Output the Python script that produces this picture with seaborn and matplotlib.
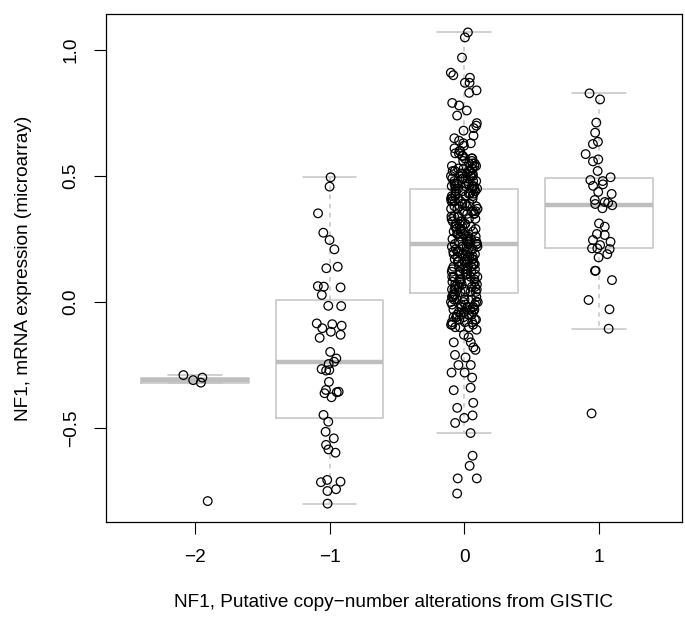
import numpy as np
import pandas as pd
import matplotlib
matplotlib.use("Agg")
import matplotlib.pyplot as plt
import seaborn as sns

# ---------------- data ----------------
cna_levels = [-2, -1, 0, 1]
xtick_labels = ["\u22122", "\u22121", "0", "1"]
ytick_values = [-0.5, 0.0, 0.5, 1.0]
ytick_labels = ["\u22120.5", "0.0", "0.5", "1.0"]

expr_m2 = [-0.29, -0.30, -0.31, -0.32, -0.79]

expr_m1 = [0.495, 0.458, 0.352, 0.275, 0.246, 0.209, 0.140, 0.134,
           0.063, 0.061, 0.058, 0.028, -0.015, -0.016,
           -0.085, -0.088, -0.094, -0.104, -0.118, -0.130, -0.142,
           -0.198, -0.224, -0.237, -0.246, -0.266, -0.270, -0.272,
           -0.317, -0.349, -0.356, -0.358, -0.362, -0.378,
           -0.448, -0.475, -0.515, -0.541, -0.567, -0.585, -0.598,
           -0.706, -0.713, -0.715, -0.743, -0.750, -0.800]

expr_0 = [1.07, 1.05, 0.97, 0.91, 0.90, 0.89, 0.87, 0.87, 0.84, 0.83,
          0.79, 0.78, 0.76, 0.74, 0.71, 0.70, 0.69, 0.68, 0.66, 0.65,
          0.64, 0.63, 0.63, 0.62, 0.61,
          0.60, 0.60, 0.59, 0.59, 0.58, 0.58, 0.57, 0.57, 0.57, 0.56,
          0.56, 0.55, 0.55, 0.55, 0.54, 0.54, 0.54, 0.53, 0.53, 0.53,
          0.52, 0.52, 0.52, 0.52, 0.51, 0.51, 0.51, 0.51, 0.50, 0.50,
          0.50, 0.50, 0.49, 0.49, 0.49, 0.49, 0.48, 0.48, 0.48, 0.48,
          0.47, 0.47, 0.47, 0.47, 0.47, 0.46, 0.46, 0.46, 0.46, 0.46,
          0.45, 0.45, 0.45, 0.45, 0.45,
          0.44, 0.44, 0.44, 0.43, 0.43, 0.43, 0.43, 0.42, 0.42, 0.42,
          0.42, 0.41, 0.41, 0.41, 0.41, 0.40, 0.40, 0.40, 0.40, 0.39,
          0.39, 0.39, 0.38, 0.38, 0.38, 0.38, 0.37, 0.37, 0.37, 0.36,
          0.36, 0.36, 0.36, 0.35, 0.35, 0.35, 0.34, 0.34, 0.34, 0.34,
          0.33, 0.33, 0.33, 0.32, 0.32, 0.32, 0.31, 0.31, 0.31, 0.31,
          0.30, 0.30, 0.30, 0.29, 0.29, 0.29, 0.29, 0.28, 0.28, 0.28,
          0.27, 0.27, 0.27, 0.27, 0.26, 0.26, 0.26, 0.25, 0.25, 0.25,
          0.25, 0.24, 0.24, 0.24, 0.24, 0.24, 0.23, 0.23, 0.23, 0.23,
          0.22, 0.22, 0.22, 0.22, 0.21, 0.21, 0.21, 0.21, 0.20, 0.20,
          0.20, 0.20, 0.19, 0.19, 0.19, 0.19, 0.18, 0.18, 0.18, 0.18,
          0.17, 0.17, 0.17, 0.17, 0.16, 0.16, 0.16, 0.16, 0.15, 0.15,
          0.15, 0.15, 0.14, 0.14, 0.14, 0.14, 0.13, 0.13, 0.13, 0.13,
          0.12, 0.12, 0.12, 0.12, 0.11, 0.11, 0.11, 0.11, 0.10, 0.10,
          0.10, 0.10, 0.09, 0.09, 0.09, 0.09, 0.08, 0.08, 0.08, 0.08,
          0.07, 0.07, 0.07, 0.07, 0.06, 0.06, 0.06, 0.06, 0.05, 0.05,
          0.05, 0.05, 0.04, 0.04, 0.04, 0.04, 0.03, 0.03, 0.03, 0.03,
          0.02, 0.02, 0.02, 0.02, 0.01, 0.01, 0.01, 0.01, 0.00, 0.00,
          0.00, 0.00, -0.01, -0.01, -0.01, -0.01, -0.02, -0.02, -0.02, -0.02,
          -0.03, -0.03, -0.03, -0.03, -0.04, -0.04, -0.04, -0.04, -0.05, -0.05,
          -0.05, -0.05, -0.06, -0.06, -0.06, -0.06, -0.07, -0.07, -0.07, -0.08,
          -0.08, -0.08, -0.09, -0.09, -0.09, -0.10, -0.10, -0.10,
          -0.11, -0.13, -0.14, -0.16, -0.16, -0.18, -0.19, -0.21, -0.22, -0.25,
          -0.25, -0.28, -0.28, -0.30, -0.34, -0.35, -0.40, -0.42, -0.45, -0.46,
          -0.48, -0.52, -0.61, -0.65, -0.70, -0.70, -0.76]

expr_p1 = [0.828, 0.804, 0.712, 0.672, 0.636, 0.627, 0.587, 0.566, 0.558,
           0.520, 0.495, 0.484, 0.480, 0.467, 0.461, 0.437, 0.429,
           0.405, 0.397, 0.394, 0.389, 0.384, 0.372,
           0.312, 0.299, 0.270, 0.266, 0.246, 0.239, 0.226,
           0.213, 0.213, 0.210, 0.190, 0.177, 0.124, 0.124, 0.087,
           0.008, -0.029, -0.106, -0.442]

x_label = "NF1, Putative copy\u2212number alterations from GISTIC"
y_label = "NF1, mRNA expression (microarray)"

groups = [expr_m2, expr_m1, expr_0, expr_p1]
df = pd.DataFrame({
    "cna": np.concatenate([[lvl] * len(g) for lvl, g in zip(cna_levels, groups)]),
    "expr": np.concatenate(groups),
})

# ---------------- style ----------------
sns.set_theme(style="white")
plt.rcParams["font.family"] = ["Liberation Sans", "DejaVu Sans"]
plt.rcParams["axes.unicode_minus"] = True

W, H = 685, 619
fig = plt.figure(figsize=(W / 100, H / 100), dpi=100)
left, right, top, bottom = 105.5, 682, 14, 522
ax = fig.add_axes([left / W, 1 - bottom / H, (right - left) / W, (bottom - top) / H])

box_grey = "#c4c4c4"
sns.boxplot(data=df, x="cna", y="expr", native_scale=True, width=0.8,
            whis=1.5, showfliers=False, fill=False, color=box_grey,
            linewidth=1.1, ax=ax,
            medianprops=dict(color="#bebebe", linewidth=3.2),
            whiskerprops=dict(color=box_grey, linestyle=(0, (3, 3))),
            capprops=dict(color=box_grey),
            boxprops=dict(color=box_grey))

np.random.seed(7)
sns.stripplot(data=df, x="cna", y="expr", native_scale=True, jitter=0.1,
              size=6.2, ax=ax, color="black", zorder=5)
for coll in ax.collections:
    coll.set_facecolor("none")
    coll.set_edgecolor("black")
    coll.set_linewidth(0.9)

ax.set_xlim(-2.663, 1.616)
ax.set_ylim(-0.873, 1.143)

ax.set_xticks(cna_levels)
ax.set_xticklabels(xtick_labels)
ax.set_yticks(ytick_values)
ax.set_yticklabels(ytick_labels, rotation=90, va="center")

fs = 13.7
ax.tick_params(axis="both", which="major", direction="out", length=8.6,
               width=0.8, color="black", labelsize=fs, labelcolor="black",
               bottom=True, left=True)
ax.tick_params(axis="x", pad=11.2)
ax.tick_params(axis="y", pad=10)

for s in ax.spines.values():
    s.set_color("black")
    s.set_linewidth(0.9)
    s.set_visible(True)

ax.set_xlabel(x_label, fontsize=fs, labelpad=19.5, color="black")
ax.set_ylabel(y_label, fontsize=fs, labelpad=21.8, color="black")

fig.savefig("out.png", dpi=100)
